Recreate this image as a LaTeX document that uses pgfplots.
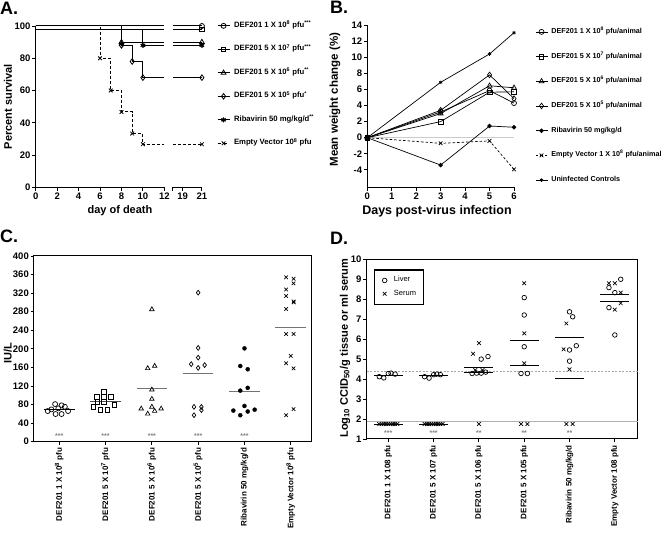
\documentclass[border=0pt]{standalone}
\usepackage{pgfplots}
\pgfplotsset{compat=1.18}
\usepackage{fontspec}
\setmainfont{Liberation Sans}
\newcommand{\labfont}{\fontsize{11}{12}\selectfont\bfseries}
\newcommand{\tickfont}{\fontsize{9.5}{9.5}\selectfont\bfseries}
\begin{document}
\begin{tikzpicture}[font=\bfseries]
\path[use as bounding box] (0,0) rectangle (664pt,537pt);
\pgfplotsset{
  every axis/.append style={
    scale only axis,
    /pgf/number format/assume math mode=true,
    tick align=outside,
    major tick length=3.5pt,
    every tick/.style={black, line width=0.9pt},
    tick label style={font=\tickfont, inner sep=1.5pt},
    axis line style={line width=1pt},
    legend image code/.code={\draw[mark repeat=2,mark phase=2,#1] plot coordinates {(0pt,0pt)(6pt,0pt)(12pt,0pt)};},
  },
}
% ---------------- Panel A ----------------
\begin{axis}[
  at={(35.7pt,349.7pt)}, anchor=south west,
  width=166.2pt, height=161.3pt,
  xmin=0, xmax=15.5, ymin=0, ymax=100,
  axis x line*=bottom, axis y line*=left,
  axis line style={-}, x axis line style={draw=none},
  xtick={0,2,4,6,8,10,12,13.7,15.5},
  xticklabels={0,2,4,6,8,10,12,19,21},
  extra x ticks={12.8}, extra x tick labels={},
  ytick={0,20,...,100},
  clip=false,
  xlabel={day of death}, ylabel={Percent survival},
  xlabel style={at={(axis description cs:0.507,-0.147)}, anchor=center, font=\labfont},
  ylabel style={at={(axis description cs:-0.167,0.5)}, anchor=center, font=\labfont},
  legend style={draw=none, fill=none, inner sep=0pt, at={(axis description cs:1.09,1.03)}, anchor=north west,
    font=\fontsize{7.7}{8}\selectfont\bfseries, row sep=14.5pt, column sep=4pt,
    nodes={inner sep=0pt, text height=6pt, text depth=3pt}},
  legend cell align=left,
]
\draw[line width=1pt] (axis cs:0,0) -- (axis cs:12,0);
\draw[line width=1pt] (axis cs:12.8,0) -- (axis cs:15.5,0);
\addlegendimage{black, line width=1pt, mark=o, mark size=2.5pt, mark options={solid, fill=white, line width=0.8pt}}
\addlegendentry{DEF201 1 X 10\textsuperscript{8} pfu\textsuperscript{***}}
\addlegendimage{black, line width=1pt, mark=square, mark size=2.3pt, mark options={solid, fill=white, line width=0.8pt}}
\addlegendentry{DEF201 5 X 10\textsuperscript{7} pfu\textsuperscript{***}}
\addlegendimage{black, line width=1pt, mark=triangle, mark size=2.8pt, mark options={solid, fill=white, line width=0.8pt}}
\addlegendentry{DEF201 5 X 10\textsuperscript{6} pfu\textsuperscript{**}}
\addlegendimage{black, line width=1pt, mark=diamond, mark size=2.8pt, mark options={solid, fill=white, line width=0.8pt}}
\addlegendentry{DEF201 5 X 10\textsuperscript{5} pfu\textsuperscript{*}}
\addlegendimage{black, line width=1pt, mark=asterisk, mark size=2.6pt, mark options={solid, line width=1.2pt}}
\addlegendentry{Ribavirin 50 mg/kg/d\textsuperscript{**}}
\addlegendimage{black, line width=1pt, dashed, mark=x, mark size=2.6pt, mark options={solid, line width=0.8pt}}
\addlegendentry{Empty Vector 10\textsuperscript{8} pfu}
% empty vector
\addplot[black, line width=1pt, dash pattern=on 3pt off 2pt, forget plot] coordinates {(0,100)(6,100)(6,80)(7,80)(7,60)(8,60)(8,46.7)(9,46.7)(9,33.3)(10,33.3)(10,26.7)(12,26.7)};
\addplot[black, line width=1pt, dash pattern=on 3pt off 2pt, forget plot] coordinates {(12.8,26.7)(15.5,26.7)};
\addplot[only marks, mark=x, mark size=2.6pt, mark options={line width=0.8pt}, forget plot] coordinates {(6,80)(7,60)(8,46.7)(9,33.3)(10,26.7)(15.5,26.7)};
% 1e8
\addplot[black, line width=1pt, forget plot] coordinates {(0,100)(12,100)};
\addplot[black, line width=1pt, forget plot] coordinates {(12.8,100)(15.5,100)};
\addplot[only marks, mark=o, mark size=2.5pt, mark options={fill=white, line width=0.8pt}, forget plot] coordinates {(15.5,100)};
% 5e7
\addplot[black, line width=1pt, forget plot] coordinates {(0,98)(12,98)};
\addplot[black, line width=1pt, forget plot] coordinates {(12.8,98)(15.5,98)};
\addplot[only marks, mark=square, mark size=2.3pt, mark options={fill=white, line width=0.8pt}, forget plot] coordinates {(15.5,98)};
% ribavirin
\addplot[black, line width=1pt, forget plot] coordinates {(0,98)(10,98)(10,88)(12,88)};
\addplot[black, line width=1pt, forget plot] coordinates {(12.8,88)(15.5,88)};
\addplot[only marks, mark=asterisk, mark size=2.6pt, mark options={line width=1.2pt}, forget plot] coordinates {(8,89)(10,88)(15.5,88)};
% 5e6
\addplot[black, line width=1pt, forget plot] coordinates {(0,100)(8,100)(8,90)(12,90)};
\addplot[black, line width=1pt, forget plot] coordinates {(12.8,90)(15.5,90)};
\addplot[only marks, mark=triangle, mark size=2.8pt, mark options={fill=white, line width=0.8pt}, forget plot] coordinates {(8,90)(15.5,90)};
% 5e5
\addplot[black, line width=1pt, forget plot] coordinates {(0,100)(8,100)(8,88)(9,88)(9,78)(10,78)(10,68)(12,68)};
\addplot[black, line width=1pt, forget plot] coordinates {(12.8,68)(15.5,68)};
\addplot[only marks, mark=diamond, mark size=2.8pt, mark options={fill=white, line width=0.8pt}, forget plot] coordinates {(8,88)(9,78)(10,68)(15.5,68)};
\end{axis}
% ---------------- Panel B ----------------
\begin{axis}[
  at={(367.3pt,349.7pt)}, anchor=south west,
  width=146.7pt, height=162.3pt,
  xmin=0, xmax=6, ymin=-6.16, ymax=14,
  axis x line*=bottom, axis y line*=left, axis line style={-},
  xtick={0,...,6}, ytick={-4,-2,...,14},
  clip=false,
  xlabel={Days post-virus infection}, ylabel={Mean weight change (\%)},
  xlabel style={at={(axis description cs:0.475,-0.146)}, anchor=center, font=\fontsize{12.5}{13}\selectfont\bfseries},
  ylabel style={at={(axis description cs:-0.22,0.54)}, anchor=center, font=\fontsize{11.5}{12}\selectfont\bfseries},
  legend style={draw=none, fill=none, inner sep=0pt, at={(axis description cs:1.143,0.9865)}, anchor=north west,
    font=\fontsize{7.2}{8}\selectfont\bfseries, row sep=15.7pt, column sep=3.5pt,
    nodes={inner sep=0pt, text height=6pt, text depth=3pt}},
  legend cell align=left,
]
\addplot[gray!40, line width=1.2pt, forget plot] coordinates {(0,0)(6,0)};
\addplot[black, line width=0.7pt, mark=o, mark size=2.5pt, mark options={solid, fill=white}] coordinates {(0,0)(3,3.2)(5,5.85)(6,4.3)};
\addlegendentry{DEF201 1 X 10\textsuperscript{8} pfu/animal}
\addplot[black, line width=0.7pt, mark=square, mark size=2.3pt, mark options={solid, fill=white}] coordinates {(0,0)(3,2.0)(5,5.65)(6,5.7)};
\addlegendentry{DEF201 5 X 10\textsuperscript{7} pfu/animal}
\addplot[black, line width=0.7pt, mark=triangle, mark size=2.8pt, mark options={solid, fill=white}] coordinates {(0,0)(3,3.0)(5,6.45)(6,6.2)};
\addlegendentry{DEF201 5 X 10\textsuperscript{6} pfu/animal}
\addplot[black, line width=0.7pt, mark=diamond, mark size=2.8pt, mark options={solid, fill=white}] coordinates {(0,0)(3,3.4)(5,7.8)(6,4.85)};
\addlegendentry{DEF201 5 X 10\textsuperscript{5} pfu/animal}
\addplot[black, line width=0.7pt, mark=*, mark size=1.9pt, mark options={solid}] coordinates {(0,0)(3,-3.4)(5,1.45)(6,1.3)};
\addlegendentry{Ribavirin 50 mg/kg/d}
\addplot[black, line width=0.7pt, dash pattern=on 2.5pt off 2pt, mark=x, mark size=2.6pt, mark options={solid}] coordinates {(0,0)(3,-0.7)(5,-0.4)(6,-3.93)};
\addlegendentry{Empty Vector 1 X 10\textsuperscript{8} pfu/animal}
\addplot[black, line width=0.7pt, mark=asterisk, mark size=1.8pt, mark options={solid}] coordinates {(0,0)(3,6.88)(5,10.4)(6,13.04)};
\addlegendentry{Uninfected Controls}
\end{axis}
% ---------------- Panel C ----------------
\begin{axis}[
  at={(34pt,95.3pt)}, anchor=south west,
  width=277.5pt, height=185.7pt,
  xmin=-0.546, xmax=5.448, ymin=0, ymax=400,
  tick pos=left, axis line style={line width=1pt},
  xtick={0,...,5}, ytick={0,40,...,400},
  xticklabels={DEF201 1 X 10\textsuperscript{8} pfu, DEF201 5 X 10\textsuperscript{7} pfu, DEF201 5 X 10\textsuperscript{6} pfu, DEF201 5 X 10\textsuperscript{5} pfu, Ribavirin 50 mg/kg/d, Empty Vector 10\textsuperscript{8} pfu},
  xticklabel style={rotate=90, anchor=east, font=\fontsize{8}{8}\selectfont\bfseries, inner sep=2.5pt},
  ylabel={IU/L},
  ylabel style={at={(axis description cs:-0.095,0.478)}, anchor=center, font=\labfont},
  clip=false,
]
\addplot[only marks, mark=o, mark size=2.5pt, mark options={line width=0.7pt}] coordinates {(-0.25,66)(-0.17,69.6)(-0.09,81)(-0.08,59.6)(-0.02,71.8)(0.05,78.3)(0.05,59.6)(0.12,75.3)(0.19,66)};
\addplot[only marks, mark=square, mark size=2.3pt, mark options={line width=0.7pt}] coordinates {(0.74,75)(0.81,97)(0.82,86)(0.89,68)(0.96,108)(0.96,97)(0.96,86)(1.04,69)(1.12,97)(1.19,80)};
\addplot[only marks, mark=triangle, mark size=2.6pt, mark options={line width=0.7pt}] coordinates {(2,285)(1.91,158)(2.06,163)(2,112)(2,92)(1.77,71)(2,75)(1.91,60)(2.06,66)(2.2,71)};
\addplot[only marks, mark=diamond, mark size=2.4pt, mark options={line width=0.7pt}] coordinates {(3,321)(3,202)(3,181)(2.85,167)(3,159)(3.14,165)(2.91,75)(3.07,75)(3.07,68)(2.91,57)};
\addplot[only marks, mark=*, mark size=2pt] coordinates {(4,201)(3.91,163)(4.07,156)(4.07,116)(3.91,110)(4,77)(3.76,67)(4.22,69)(4.07,65)(3.91,57)};
\addplot[only marks, mark=x, mark size=2.5pt, mark options={line width=0.7pt}] coordinates {(4.9,354)(5.06,351)(5.06,341)(4.9,328)(4.9,314)(5.06,302)(5.065,300)(4.9,286)(4.9,232)(5.06,232)(5.0,185)(4.9,169)(5.06,158)(4.9,57)(5.06,70)};
\addplot[black, line width=1pt] coordinates {(-0.33,69.5)(0.33,69.5)};
\addplot[black!70, line width=1pt] coordinates {(0.67,86)(1.33,86)};
\addplot[black!55, line width=1pt] coordinates {(1.67,115.3)(2.33,115.3)};
\addplot[black!55, line width=1pt] coordinates {(2.67,147)(3.33,147)};
\addplot[black!55, line width=1pt] coordinates {(3.67,108)(4.33,108)};
\addplot[black!55, line width=1pt] coordinates {(4.67,246)(5.33,246)};
\node[text=black!50, font=\fontsize{7}{7}\selectfont\bfseries, inner sep=0pt] at (axis cs:0,12) {***};
\node[text=black!50, font=\fontsize{7}{7}\selectfont\bfseries, inner sep=0pt] at (axis cs:1,12) {***};
\node[text=black!50, font=\fontsize{7}{7}\selectfont\bfseries, inner sep=0pt] at (axis cs:2,12) {***};
\node[text=black!50, font=\fontsize{7}{7}\selectfont\bfseries, inner sep=0pt] at (axis cs:3,12) {***};
\node[text=black!50, font=\fontsize{7}{7}\selectfont\bfseries, inner sep=0pt] at (axis cs:4,12) {***};
\end{axis}
% ---------------- Panel D ----------------
\begin{axis}[
  at={(366.7pt,98pt)}, anchor=south west,
  width=271pt, height=179.7pt,
  xmin=-0.477, xmax=5.505, ymin=1, ymax=10,
  tick pos=left, axis line style={line width=1pt},
  xtick={0,...,5}, ytick={1,...,10},
  xticklabels={DEF201 1 X 108 pfu, DEF201 5 X 107 pfu, DEF201 5 X 106 pfu, DEF201 5 X 105 pfu, Ribavirin 50 mg/kg/d, Empty Vector 108 pfu},
  xticklabel style={rotate=90, anchor=east, font=\fontsize{8}{8}\selectfont\bfseries, inner sep=2.5pt},
  ylabel={Log\textsubscript{10} CCID\textsubscript{50}/g tissue or ml serum},
  ylabel style={at={(axis description cs:-0.08,0.506)}, anchor=center, font=\labfont},
  clip=false,
  legend style={draw=black, line width=1.2pt, fill=white, inner xsep=7.5pt, inner ysep=6pt,
    at={(axis description cs:0.028,0.944)}, anchor=north west,
    font=\fontsize{7.5}{8}\selectfont\mdseries, row sep=4.3pt, column sep=7pt,
    nodes={inner sep=0pt, text height=6pt, text depth=3pt}},
  legend cell align=left,
  legend image code/.code={\draw[#1] plot coordinates {(0pt,0pt)};},
]
\addplot[gray!60, line width=1pt, forget plot] coordinates {(-0.477,1.87)(5.505,1.87)};
\addplot[gray!70, line width=0.8pt, dash pattern=on 2pt off 1.5pt, forget plot] coordinates {(-0.477,4.4)(5.505,4.4)};
\addplot[only marks, mark=o, mark size=2.3pt, mark options={line width=0.7pt}] coordinates {
 (-0.2,4.12)(-0.1,4.06)(0,4.28)(0.06,4.3)(0.15,4.25)
 (0.8,4.12)(0.9,4.05)(1,4.22)(1.07,4.25)(1.15,4.22)
 (2.05,5.0)(2.2,5.13)(1.85,4.28)(1.95,4.3)(2.05,4.3)(2.15,4.35)
 (3,8.08)(3,7.21)(3,5.62)(2.93,4.28)(3.07,4.28)
 (4,7.37)(4.07,7.12)(4,5.46)(4.15,5.67)(4,4.9)
 (5.13,9.0)(4.87,8.58)(5,8.33)(4.87,7.58)(5,6.21)};
\addlegendentry{Liver}
\addplot[only marks, mark=x, mark size=2.6pt, mark options={line width=0.7pt}] coordinates {
 (-0.2,1.75)(-0.15,1.75)(-0.1,1.75)(-0.05,1.75)(0,1.75)(0.05,1.75)(0.1,1.75)(0.15,1.75)(0.2,1.75)
 (0.8,1.75)(0.85,1.75)(0.9,1.75)(0.95,1.75)(1,1.75)(1.05,1.75)(1.1,1.75)(1.15,1.75)(1.2,1.75)
 (2,5.8)(1.87,5.27)(1.92,4.45)(2.08,4.45)(2,1.75)
 (3,8.8)(3,6.29)(3,4.79)(2.93,1.75)(3.07,1.75)
 (3.93,6.79)(3.87,5.49)(4,4.49)(3.93,1.75)(4.07,1.75)
 (4.87,8.8)(5,8.8)(5.13,8.33)(5.13,7.8)(5,7.48)};
\addlegendentry{Serum}
\addplot[black, line width=1pt, forget plot] coordinates {(-0.32,4.2)(0.32,4.2)};
\addplot[black, line width=1pt, forget plot] coordinates {(-0.32,1.75)(0.32,1.75)};
\addplot[black, line width=1pt, forget plot] coordinates {(0.68,4.17)(1.32,4.17)};
\addplot[black, line width=1pt, forget plot] coordinates {(0.68,1.75)(1.32,1.75)};
\addplot[black, line width=1pt, forget plot] coordinates {(1.68,4.59)(2.32,4.59)};
\addplot[black, line width=1pt, forget plot] coordinates {(1.68,4.35)(2.32,4.35)};
\addplot[black, line width=1pt, forget plot] coordinates {(2.68,5.91)(3.32,5.91)};
\addplot[black, line width=1pt, forget plot] coordinates {(2.68,4.66)(3.32,4.66)};
\addplot[black, line width=1pt, forget plot] coordinates {(3.68,6.09)(4.32,6.09)};
\addplot[black, line width=1pt, forget plot] coordinates {(3.68,4.02)(4.32,4.02)};
\addplot[black, line width=1pt, forget plot] coordinates {(4.68,8.25)(5.32,8.25)};
\addplot[black, line width=1pt, forget plot] coordinates {(4.68,7.91)(5.32,7.91)};
\node[text=black!50, font=\fontsize{7}{7}\selectfont\bfseries, inner sep=0pt] at (axis cs:0,1.28) {***};
\node[text=black!50, font=\fontsize{7}{7}\selectfont\bfseries, inner sep=0pt] at (axis cs:1,1.28) {***};
\node[text=black!50, font=\fontsize{7}{7}\selectfont\bfseries, inner sep=0pt] at (axis cs:2,1.28) {**};
\node[text=black!50, font=\fontsize{7}{7}\selectfont\bfseries, inner sep=0pt] at (axis cs:3,1.28) {**};
\node[text=black!50, font=\fontsize{7}{7}\selectfont\bfseries, inner sep=0pt] at (axis cs:4,1.28) {**};
\end{axis}
% panel letters
\node[anchor=north west, inner sep=0pt, font=\fontsize{18}{18}\selectfont\bfseries] at (0pt,535pt) {A.};
\node[anchor=north west, inner sep=0pt, font=\fontsize{18}{18}\selectfont\bfseries] at (330pt,536pt) {B.};
\node[anchor=north west, inner sep=0pt, font=\fontsize{18}{18}\selectfont\bfseries] at (0pt,307pt) {C.};
\node[anchor=north west, inner sep=0pt, font=\fontsize{18}{18}\selectfont\bfseries] at (330pt,305pt) {D.};
\end{tikzpicture}
\end{document}
